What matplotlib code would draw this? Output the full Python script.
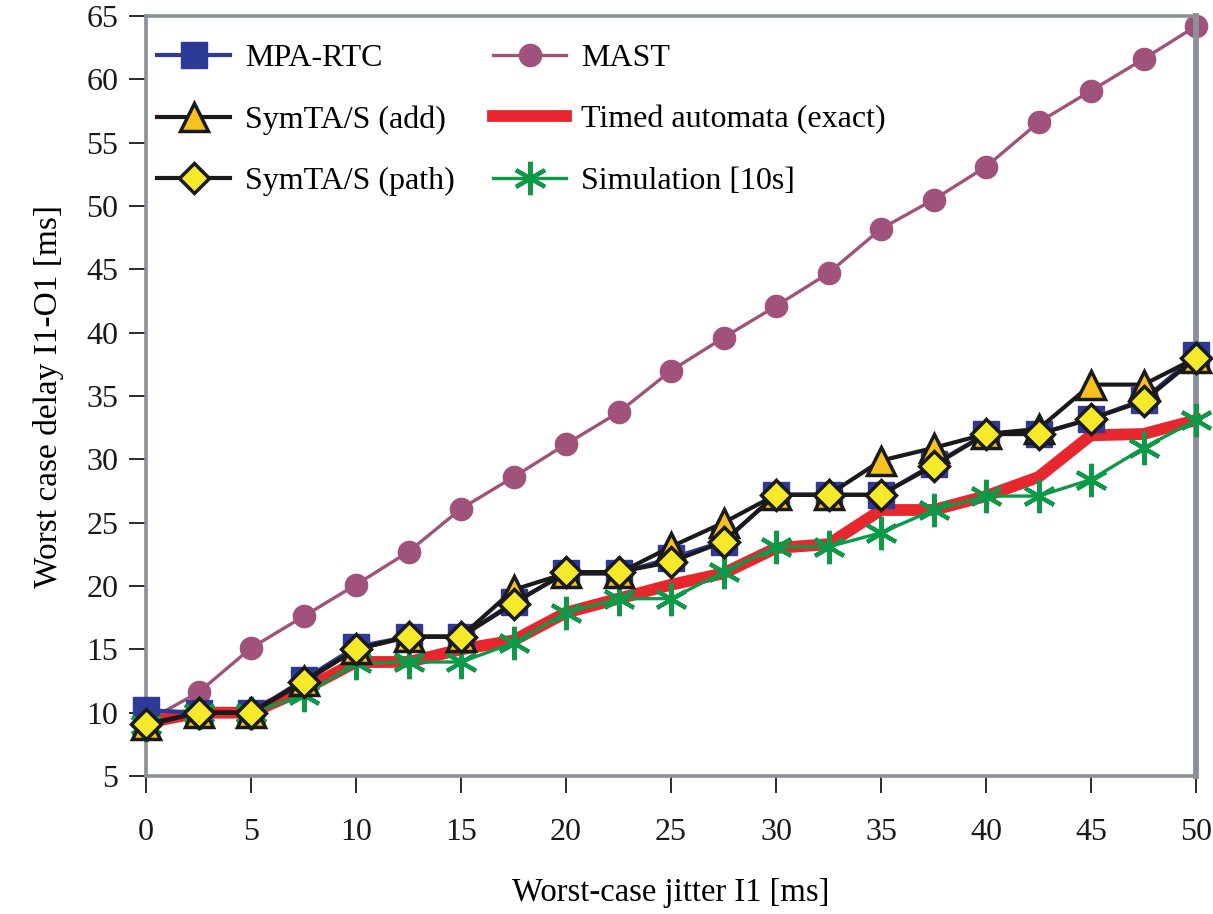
import matplotlib
matplotlib.use("Agg")
import matplotlib.pyplot as plt

jitter = [0, 2.5, 5, 7.5, 10, 12.5, 15, 17.5, 20, 22.5, 25, 27.5, 30, 32.5, 35, 37.5, 40, 42.5, 45, 47.5, 50]
mpa_rtc = [10.2, 10, 10, 12.6, 15.2, 16, 16, 18.7, 21, 21, 22.2, 23.5, 27.2, 27.2, 27.2, 29.6, 32, 32, 33.2, 34.7, 38.2]
mast = [9.3, 11.6, 15.1, 17.6, 20.1, 22.7, 26.1, 28.6, 31.2, 33.7, 37.0, 39.6, 42.1, 44.7, 48.2, 50.5, 53.1, 56.6, 59.1, 61.6, 64.2]
symta_add = [9, 10, 10, 12.5, 15, 16, 16, 19.7, 21, 21, 23.1, 25.0, 27.2, 27.2, 29.9, 30.9, 32, 32.4, 35.9, 35.9, 38]
symta_path = [9.1, 10, 10, 12.4, 15, 16, 16, 18.6, 21.1, 21.1, 21.9, 23.5, 27.2, 27.2, 27.2, 29.5, 32, 32, 33.2, 34.6, 38]
timed_automata = [9.2, 10, 10, 11.8, 14, 14, 15, 15.7, 17.9, 19, 20.1, 21, 23, 23.3, 26, 26, 27.1, 28.6, 31.9, 32, 33.1]
simulation = [9, 10, 10, 11.4, 13.9, 14, 14, 15.5, 17.9, 19, 19, 21.1, 23.1, 23.1, 24.2, 26, 27.1, 27.1, 28.4, 30.9, 33.1]

xticks = [0, 5, 10, 15, 20, 25, 30, 35, 40, 45, 50]
yticks = [5, 10, 15, 20, 25, 30, 35, 40, 45, 50, 55, 60, 65]

plt.rcParams['font.family'] = ['Liberation Serif', 'DejaVu Serif']

W, H = 1213, 914
fig = plt.figure(figsize=(W / 100, H / 100), dpi=100)
ax = fig.add_axes([146 / W, 1 - 776 / H, (1196 - 146) / W, (776 - 16) / H])

c_mpa = '#2e3a97'
c_mast = '#a0527a'
c_red = '#e8262e'
c_green = '#0d9a48'

ax.plot(jitter, mast, color=c_mast, lw=2.4, marker='o', ms=16, mfc=c_mast, mec=c_mast, label='MAST', zorder=2, clip_on=False)
ax.plot(jitter, timed_automata, color=c_red, lw=8.5, label='Timed automata (exact)', zorder=3, clip_on=False, solid_joinstyle='round')
ax.plot(jitter, mpa_rtc, color=c_mpa, lw=3, marker='s', ms=19, mfc=c_mpa, mec=c_mpa, label='MPA-RTC', zorder=4, clip_on=False)
ax.plot(jitter, simulation, color=c_green, lw=2.4, marker=(6, 2, 0), ms=24, mew=3, mec=c_green, label='Simulation [10s]', zorder=5, clip_on=False)
ax.plot(jitter, symta_add, color='#1a1a1a', lw=3, marker='^', ms=20, mfc='#f7c21d', mec='#1a1a1a', mew=2.5, label='SymTA/S (add)', zorder=6, clip_on=False)
ax.plot(jitter, symta_path, color='#1a1a1a', lw=3, marker='D', ms=15, mfc='#f5e92a', mec='#1a1a1a', mew=2.5, label='SymTA/S (path)', zorder=7, clip_on=False)

ax.set_xlim(0, 50)
ax.set_ylim(5, 65)
ax.set_xticks(xticks)
ax.set_yticks(yticks)
ax.tick_params(axis='both', direction='out', length=12, width=1.3, colors='#1a1a1a', labelsize=23, pad=18)
ax.tick_params(axis='y', pad=8)

spine_c = '#8a9099'
for s in ['left', 'bottom', 'top']:
    ax.spines[s].set_color(spine_c)
    ax.spines[s].set_linewidth(2.6)
ax.spines['right'].set_color(spine_c)
ax.spines['right'].set_linewidth(4.2)

ax.set_xlabel('Worst-case jitter I1 [ms]', fontsize=23.5, labelpad=22)
ax.set_ylabel('Worst case delay I1-O1 [ms]', fontsize=24, labelpad=16)

handles, labels = ax.get_legend_handles_labels()
order = ['MPA-RTC', 'SymTA/S (add)', 'SymTA/S (path)', 'MAST', 'Timed automata (exact)', 'Simulation [10s]']
hmap = dict(zip(labels, handles))
leg = fig.legend([hmap[l] for l in order], order, loc='upper left',
                 bbox_to_anchor=(157 / W, 1 - 44 / H), ncol=2, frameon=False,
                 fontsize=23, handlelength=2.3, handletextpad=0.45,
                 columnspacing=1.2, labelspacing=1.0, borderpad=0, borderaxespad=0)

fig.savefig('out.png', dpi=100)
